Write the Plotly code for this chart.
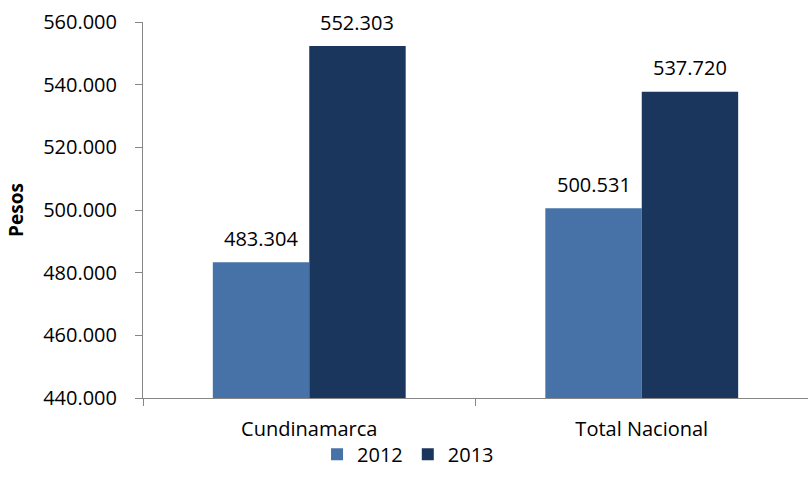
import plotly.graph_objects as go

categories = ["Cundinamarca", "Total Nacional"]
values_2012 = [483304, 500531]
values_2013 = [552303, 537720]
series_names = ["2012", "2013"]
y_ticks = [440000, 460000, 480000, 500000, 520000, 540000, 560000]

colors = ["#4672A8", "#1A365C"]
font_family = "Open Sans, Liberation Sans, sans-serif"

fig = go.Figure()
series = [values_2012, values_2013]
for name, vals, col in zip(series_names, series, colors):
    fig.add_trace(go.Bar(
        x=categories, y=vals, name=name,
        marker=dict(color=col, line=dict(width=0)),
    ))

# value labels above bars
bar_shift = [-48, 48]
for vals, dx in zip(series, bar_shift):
    for cat, v in zip(categories, vals):
        fig.add_annotation(
            x=cat, y=v, xref="x", yref="y",
            text=f"{v:,}".replace(",", "."),
            showarrow=False, xshift=dx, yshift=24, yanchor="middle",
            font=dict(size=20, color="#000000", family=font_family),
        )

fig.update_layout(
    width=808, height=489,
    paper_bgcolor="white", plot_bgcolor="white",
    separators=",.",
    barmode="group", bargap=0.42, bargroupgap=0,
    margin=dict(l=143, r=0, t=22, b=91, autoexpand=False),
    font=dict(family=font_family, size=20, color="#000000"),
    showlegend=True,
    legend=dict(orientation="h", xref="container", x=0.505, xanchor="center",
                yref="container", y=0.071, yanchor="middle",
                bgcolor="rgba(0,0,0,0)",
                font=dict(size=20), traceorder="normal", itemwidth=30),
)
fig.update_yaxes(
    range=[440000, 560000], tickvals=y_ticks, tickformat=",.0f",
    showgrid=False, zeroline=False, automargin=False,
    showline=True, linecolor="#868686", linewidth=1,
    ticks="outside", ticklen=7, tickcolor="#868686",
    ticklabelstandoff=14,
    title=dict(text="<b>Pesos</b>", font=dict(size=19), standoff=14),
    tickfont=dict(size=20),
)
fig.update_xaxes(
    showgrid=False, showline=True, linecolor="#868686", linewidth=1,
    automargin=False,
    ticks="outside", ticklen=7, tickcolor="#868686", tickson="boundaries",
    ticklabelstandoff=13,
    tickfont=dict(size=20),
)

fig.write_html("out.html", config={"displayModeBar": False})
with open("out.html", "r", encoding="utf-8") as f:
    html = f.read()
html = html.replace("<head>", "<head><style>html,body{margin:0;padding:0;overflow:hidden;}</style>", 1)
with open("out.html", "w", encoding="utf-8") as f:
    f.write(html)
